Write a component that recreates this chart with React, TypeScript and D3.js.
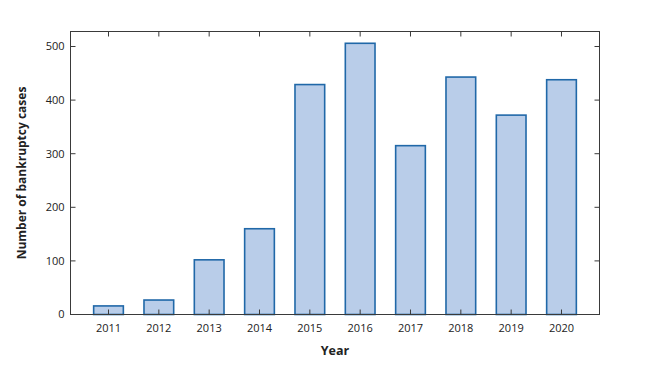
import React from "react";
import * as d3 from "d3";

const years = ["2011", "2012", "2013", "2014", "2015", "2016", "2017", "2018", "2019", "2020"];
const cases = [16, 27, 102, 160, 429, 506, 315, 443, 372, 438];
const yTicks = [0, 100, 200, 300, 400, 500];

export default function App() {
  const W = 646, H = 367;
  const left = 70.5, right = 599.5, top = 31.5, bottom = 314.5;
  const x = d3.scaleLinear().domain([-0.755, years.length - 1 + 0.755]).range([left, right]);
  const y = d3.scaleLinear().domain([0, 528]).range([bottom, top]);
  const step = x(1) - x(0);
  const bw = step * 0.59;
  const axisColor = "#3a3a3a";
  const font = "'Open Sans', 'Noto Sans', sans-serif";
  const tl = 5;
  return (
    <svg width={W} height={H} style={{ position: "absolute", left: 0, top: 0, background: "#fff" }}>
      {years.map((yr, i) => (
        <rect key={yr} x={x(i) - bw / 2} y={y(cases[i])} width={bw} height={y(0) - y(cases[i])}
          fill="#b9cde9" stroke="#2068a8" strokeWidth={1.6} />
      ))}
      <rect x={left} y={top} width={right - left} height={bottom - top} fill="none" stroke={axisColor} strokeWidth={1} />
      {years.map((yr, i) => (
        <g key={"xt" + yr}>
          <line x1={x(i)} x2={x(i)} y1={bottom} y2={bottom - tl} stroke={axisColor} />
          <line x1={x(i)} x2={x(i)} y1={top} y2={top + tl} stroke={axisColor} />
          <text x={x(i)} y={bottom + 17} textAnchor="middle" fontFamily={font} fontSize={11} fill="#222">{yr}</text>
        </g>
      ))}
      {yTicks.map((t) => (
        <g key={"yt" + t}>
          <line x1={left} x2={left + tl} y1={y(t)} y2={y(t)} stroke={axisColor} />
          <line x1={right} x2={right - tl} y1={y(t)} y2={y(t)} stroke={axisColor} />
          <text x={left - 6} y={y(t)} dy="0.35em" textAnchor="end" fontFamily={font} fontSize={11} fill="#222">{t}</text>
        </g>
      ))}
      <text x={335} y={355} textAnchor="middle" fontFamily={font} fontSize={12.5} fontWeight="bold" fill="#222">Year</text>
      <text transform={`translate(26,${(top + bottom) / 2}) rotate(-90)`} textAnchor="middle" fontFamily={font}
        fontSize={12} fontWeight="bold" fill="#222">Number of bankruptcy cases</text>
    </svg>
  );
}
